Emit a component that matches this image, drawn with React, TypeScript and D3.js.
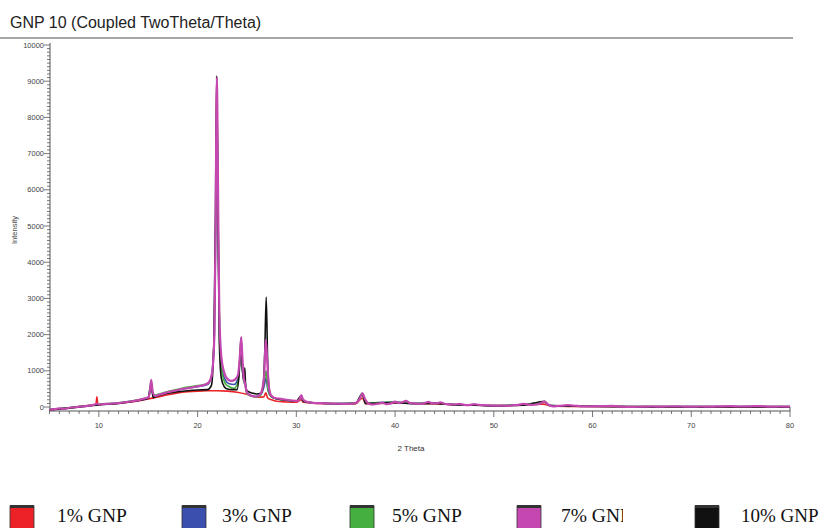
import { useEffect, useRef } from 'react';
import * as d3 from 'd3';

type Pt = [number, number];

// 2θ / intensity pairs
const gnp1: Pt[] = [[5,-80],[6,-50],[7,-20],[8,10],[9,40],[9.7,60],[9.8,280],[9.9,60],[10.5,75],[11,85],[12,105],[13,135],[14,170],[15,220],[16,280],[17,340],[18,390],[19,420],[20,440],[21,450],[22,450],[23,440],[24,410],[25,350],[26,270],[26.7,280],[26.9,390],[27.1,250],[27.5,200],[28,160],[29,140],[30,130],[30.5,200],[30.7,130],[32,100],[34,90],[36,90],[36.7,250],[37,90],[40,110],[45,80],[50,40],[55,80],[56,20],[60,15],[70,5],[80,5]];

const gnp3: Pt[] = [[5,-70],[7,-20],[9,40],[10,70],[12,110],[14,190],[15,250],[15.3,650],[15.5,300],[16,330],[17,410],[18,470],[19,520],[20,560],[21,620],[21.4,850],[21.7,2000],[21.85,5500],[21.95,8200],[22.08,5000],[22.25,1800],[22.5,1000],[22.8,750],[23.2,640],[23.7,620],[24.1,800],[24.3,1300],[24.42,1500],[24.55,1000],[24.7,700],[24.8,720],[24.95,420],[25.3,330],[25.8,290],[26.3,320],[26.6,450],[26.8,650],[26.93,800],[27.1,500],[27.4,300],[28,230],[29,190],[30,160],[30.5,300],[30.7,160],[32,110],[34,95],[36,105],[36.7,370],[37,110],[40,140],[42,100],[44,110],[46,70],[48,60],[50,40],[53,70],[55.15,130],[55.6,50],[58,30],[62,20],[66,10],[70,10],[75,15],[80,10]];

const gnp5: Pt[] = [[5,-70],[7,-20],[9,40],[10,75],[12,115],[14,200],[15,270],[15.3,700],[15.5,320],[16,350],[17,430],[18,490],[19,550],[20,590],[21,640],[21.4,830],[21.7,2100],[21.85,5800],[21.95,8600],[22.08,5200],[22.25,1700],[22.5,900],[22.8,650],[23.2,560],[23.7,520],[24.1,700],[24.3,1400],[24.42,1650],[24.55,1000],[24.7,650],[24.8,680],[24.95,400],[25.3,310],[25.8,280],[26.3,300],[26.6,500],[26.8,800],[26.93,1000],[27.1,550],[27.4,300],[28,230],[29,190],[30,160],[30.5,310],[30.7,160],[32,110],[34,95],[36,105],[36.7,380],[37,110],[40,140],[42,100],[44,110],[46,70],[48,60],[50,40],[53,70],[55.15,130],[55.6,50],[58,30],[62,20],[66,10],[70,10],[75,15],[80,10]];

const gnp10: Pt[] = [[5,-80],[7,-30],[9,30],[10,60],[12,100],[14,180],[15,240],[15.3,600],[15.5,260],[16,310],[17,380],[18,420],[19,450],[20,470],[21,480],[21.4,600],[21.65,1800],[21.8,5000],[21.93,9150],[22.06,5500],[22.2,1800],[22.4,800],[22.7,560],[23,500],[23.5,480],[24,480],[24.2,900],[24.4,1900],[24.55,1000],[24.7,750],[24.78,1080],[24.88,500],[25.1,430],[25.6,380],[26,360],[26.4,380],[26.65,600],[26.8,1500],[26.95,3040],[27.1,1200],[27.3,400],[27.6,260],[28,230],[29,190],[30,160],[30.5,300],[30.7,160],[32,110],[34,90],[36,100],[36.7,350],[37,100],[40,120],[42,90],[44,100],[46,60],[48,50],[50,30],[53,50],[55.15,160],[55.6,40],[58,20],[62,10],[66,5],[70,5],[75,5],[80,5]];

const gnp7: Pt[] = [[5,-70],[5.5,-60],[6,-40],[6.5,-50],[7,-20],[7.5,-10],[8,10],[8.5,20],[9,40],[9.5,60],[9.8,90],[10,70],[10.5,80],[11,90],[11.5,100],[12,110],[12.5,125],[13,145],[13.5,165],[14,190],[14.5,230],[15,260],[15.15,400],[15.3,750],[15.45,420],[15.7,300],[16,330],[16.5,370],[17,410],[17.5,440],[18,470],[18.5,500],[19,520],[19.5,545],[20,570],[20.5,600],[21,650],[21.3,760],[21.5,1000],[21.7,2000],[21.82,5000],[21.95,9100],[22.07,6000],[22.2,2600],[22.4,1400],[22.7,950],[23,780],[23.4,720],[23.8,760],[24.1,900],[24.28,1400],[24.42,1930],[24.55,1300],[24.68,800],[24.8,650],[24.95,450],[25.2,340],[25.6,300],[26,290],[26.3,330],[26.55,500],[26.75,900],[26.9,1850],[27.05,1300],[27.2,600],[27.45,320],[27.8,250],[28.3,230],[29,200],[29.6,180],[30.1,170],[30.35,230],[30.5,330],[30.65,220],[31,150],[31.5,120],[32,110],[32.5,105],[33,100],[33.5,95],[34,95],[34.5,90],[35,85],[35.5,90],[36,110],[36.4,220],[36.7,380],[36.95,220],[37.3,100],[37.8,70],[38.3,90],[38.7,120],[39.1,80],[39.6,100],[40,150],[40.4,110],[40.8,140],[41.1,170],[41.5,110],[42,100],[42.5,90],[43,110],[43.4,140],[43.8,100],[44.3,110],[44.6,130],[45,90],[45.5,80],[46,70],[46.5,85],[47,60],[47.5,55],[48,80],[48.5,60],[49,50],[49.5,45],[50,40],[50.5,35],[51,40],[51.5,30],[52,50],[52.5,60],[53,90],[53.4,70],[53.8,60],[54.3,70],[54.7,100],[55.15,150],[55.5,70],[56,20],[56.5,30],[57,40],[57.5,50],[58,40],[58.5,30],[59,20],[60,20],[61,25],[62,30],[63,10],[64,5],[65,10],[66,15],[67,10],[68,20],[69,15],[70,10],[71,15],[72,10],[73,20],[74,25],[75,15],[76,20],[77,25],[78,10],[79,15],[80,10]];

const seriesNames = ['1% GNP', '3% GNP', '5% GNP', '7% GNP', '10% GNP'];
const seriesColors = ['#ec2227', '#3a4fae', '#45b03f', '#c448b0', '#111111'];
const seriesData = [gnp1, gnp3, gnp5, gnp7, gnp10];
const drawOrder = [0, 1, 2, 4, 3]; // magenta sits on top

const xTicks = [10, 20, 30, 40, 50, 60, 70, 80];
const yTicks = [0, 1000, 2000, 3000, 4000, 5000, 6000, 7000, 8000, 9000, 10000];

// legend layout (box x, text x)
const legendBoxX = [10, 182, 350, 517, 695];
const legendTextX = [57, 222, 392, 561, 741];

export default function App() {
  const ref = useRef<SVGSVGElement>(null);

  useEffect(() => {
    if (!ref.current) return;
    const svg = d3.select(ref.current);
    svg.selectAll('*').remove();

    const x = d3.scaleLinear().domain([5, 80]).range([49.5, 790]);
    const y = d3.scaleLinear().domain([-110, 10000]).range([411, 45]);
    const axisColor = '#555';
    const font = 'Arial, "Liberation Sans", sans-serif';

    // title + rule
    svg.append('text').attr('x', 10).attr('y', 28)
      .attr('font-family', font).attr('font-size', 16).attr('fill', '#222')
      .text('GNP 10 (Coupled TwoTheta/Theta)');
    svg.append('line').attr('x1', 0).attr('x2', 793).attr('y1', 38).attr('y2', 38)
      .attr('stroke', '#888').attr('stroke-width', 1.5);

    // y axis
    const yAxis = svg.append('g').attr('transform', 'translate(50,0)');
    yAxis.append('line').attr('y1', y(10000) - 2).attr('y2', y(-110)).attr('stroke', axisColor);
    d3.range(0, 10001, 100).forEach(v => {
      const major = v % 1000 === 0;
      yAxis.append('line').attr('x1', major ? -6 : -3).attr('x2', 0)
        .attr('y1', y(v)).attr('y2', y(v)).attr('stroke', axisColor).attr('stroke-width', 0.8);
    });
    yTicks.forEach(v => {
      yAxis.append('text').attr('x', -6).attr('y', y(v)).attr('dy', '0.35em')
        .attr('text-anchor', 'end').attr('font-family', font).attr('font-size', 7.5)
        .attr('fill', '#444').text(v);
    });
    svg.append('text').attr('transform', `translate(17,${230}) rotate(-90)`)
      .attr('text-anchor', 'middle').attr('font-family', font).attr('font-size', 7.5)
      .attr('fill', '#444').text('Intensity');

    // x axis
    const xAxis = svg.append('g').attr('transform', `translate(0,${y(-110)})`);
    xAxis.append('line').attr('x1', x(5)).attr('x2', x(80)).attr('stroke', axisColor).attr('stroke-width', 1.2);
    d3.range(5, 81, 1).forEach(v => {
      const major = v % 10 === 0;
      xAxis.append('line').attr('x1', x(v)).attr('x2', x(v)).attr('y1', 0).attr('y2', major ? 6 : 3)
        .attr('stroke', axisColor).attr('stroke-width', 0.8);
    });
    xAxis.append('line').attr('x1', x(80)).attr('x2', x(80)).attr('y1', -4).attr('y2', 0).attr('stroke', axisColor);
    xTicks.forEach(v => {
      xAxis.append('text').attr('x', x(v)).attr('y', 17).attr('text-anchor', 'middle')
        .attr('font-family', font).attr('font-size', 7.5).attr('fill', '#444').text(v);
    });
    svg.append('text').attr('x', 411).attr('y', 451).attr('text-anchor', 'middle')
      .attr('font-family', font).attr('font-size', 8).attr('fill', '#333').text('2 Theta');

    // traces
    const line = d3.line<Pt>().x(d => x(d[0])).y(d => y(d[1])).curve(d3.curveMonotoneX);
    drawOrder.forEach(i => {
      svg.append('path').datum(seriesData[i]).attr('d', line)
        .attr('fill', 'none').attr('stroke', seriesColors[i])
        .attr('stroke-width', i === 3 ? 2.2 : 1.6).attr('stroke-linejoin', 'round');
    });

    // legend
    const defs = svg.append('defs');
    defs.append('clipPath').attr('id', 'cut7').append('rect')
      .attr('x', 0).attr('y', 480).attr('width', 623).attr('height', 60);
    seriesNames.forEach((name, i) => {
      const g = svg.append('g');
      g.append('rect').attr('x', legendBoxX[i]).attr('y', 506).attr('width', 24).attr('height', 26)
        .attr('fill', seriesColors[i]).attr('stroke', '#333').attr('stroke-width', 0.8);
      g.append('rect').attr('x', legendBoxX[i]).attr('y', 505).attr('width', 24).attr('height', 3)
        .attr('fill', '#333');
      const t = g.append('text').attr('x', legendTextX[i]).attr('y', 522)
        .attr('font-family', '"Liberation Serif", "Times New Roman", serif')
        .attr('font-size', i === 4 ? 19 : 19.5)
        .attr('fill', '#111').text(name);
      if (i === 3) t.attr('clip-path', 'url(#cut7)');
    });
  }, []);

  return (
    <svg ref={ref} width={821} height={528} viewBox="0 0 821 528"
      style={{ position: 'absolute', left: 0, top: 0, background: '#fff' }} />
  );
}
